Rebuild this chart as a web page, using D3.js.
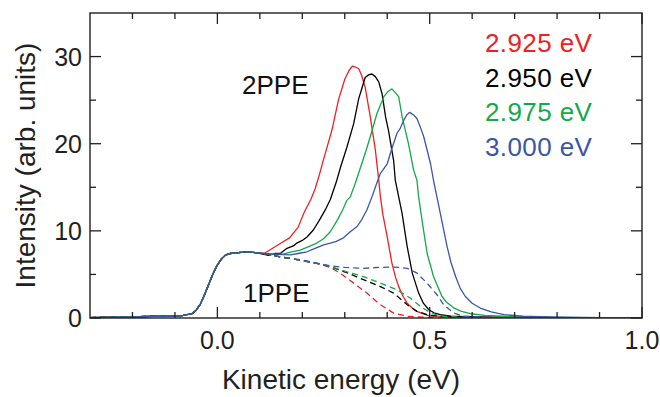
<!DOCTYPE html>
<html>
<head>
<meta charset="utf-8">
<script src="https://cdn.jsdelivr.net/npm/d3@7"></script>
<style>
  body { margin: 0; background: #fff; }
  svg { display: block; font-family: 'Liberation Sans', Arial, Helvetica, sans-serif; }
  .frame { fill: none; stroke: #231f20; stroke-width: 1.4; }
  .tick-mark { stroke: #231f20; stroke-width: 1.3; }
  .tick-label { fill: #231f20; font-size: 25px; }
  .axis-title { fill: #231f20; font-size: 28px; }
  .note { fill: #111; font-size: 26px; }
  .legend { font-size: 26px; letter-spacing: 0.4px; }
</style>
</head>
<body>
<svg class="chart" width="660" height="397"></svg>
<script>
// photon energies (legend) and their colours
const photonLabels = ['2.925 eV', '2.950 eV', '2.975 eV', '3.000 eV'];
const colors = ['#ee2026', '#000000', '#12a94a', '#3a56a7'];

// tick values
const xMajor = [0.0, 0.5, 1.0];
const xMinor = [-0.2, -0.1, 0.1, 0.2, 0.3, 0.4, 0.6, 0.7, 0.8, 0.9];
const yMajor = [0, 10, 20, 30];
const yMinor = [5, 15, 25];

// common onset of all spectra [kinetic energy (eV), intensity]
const onset = [
  [-0.30, 0.05], [-0.25, 0.1], [-0.20, 0.12], [-0.15, 0.2], [-0.10, 0.2], [-0.08, 0.3],
  [-0.06, 0.5], [-0.05, 0.9], [-0.04, 1.6], [-0.03, 2.7], [-0.02, 3.9], [-0.01, 5.1],
  [0.00, 6.1], [0.01, 6.8], [0.02, 7.25], [0.03, 7.4], [0.05, 7.5], [0.07, 7.6], [0.09, 7.5]
];

// 2PPE spectra (solid)
const red2PPE = [
  [0.11, 7.4], [0.13, 8.0], [0.15, 8.6], [0.17, 9.2], [0.19, 10.4], [0.205, 12.2], [0.22, 13.6],
  [0.23, 14.8], [0.24, 16.4], [0.25, 18.2], [0.26, 19.9], [0.27, 21.6], [0.285, 25.0], [0.30, 27.4],
  [0.31, 28.4], [0.318, 28.9], [0.325, 28.8], [0.333, 28.6], [0.34, 27.8], [0.348, 26.5], [0.36, 23.1],
  [0.372, 19.3], [0.38, 15.8], [0.384, 13.9], [0.39, 11.8], [0.40, 9.3], [0.411, 6.3], [0.42, 4.6],
  [0.427, 3.6], [0.437, 2.5], [0.447, 1.7], [0.46, 1.1], [0.47, 0.75], [0.49, 0.4], [0.50, 0.25],
  [0.55, 0.15], [0.60, 0.1], [0.70, 0.05], [0.80, 0.05], [0.90, 0.03], [1.0, 0.03]
];
const black2PPE = [
  [0.11, 7.3], [0.12, 7.2], [0.135, 7.4], [0.148, 7.4], [0.164, 8.0], [0.18, 8.3], [0.187, 8.6],
  [0.20, 8.9], [0.211, 9.3], [0.226, 10.1], [0.24, 11.2], [0.254, 12.4], [0.266, 13.6], [0.28, 15.6],
  [0.29, 17.3], [0.305, 19.6], [0.321, 22.3], [0.333, 25.2], [0.34, 26.3], [0.348, 27.6], [0.356, 27.9],
  [0.364, 28.0], [0.372, 27.7], [0.38, 27.1], [0.388, 25.7], [0.396, 23.1], [0.403, 21.5], [0.415, 18.1],
  [0.419, 15.8], [0.427, 13.9], [0.435, 12.0], [0.447, 8.2], [0.459, 5.15], [0.474, 2.86], [0.485, 1.7],
  [0.498, 0.95], [0.51, 0.6], [0.525, 0.38], [0.55, 0.2], [0.60, 0.12], [0.70, 0.06], [0.85, 0.04], [1.0, 0.03]
];
const green2PPE = [
  [0.11, 7.4], [0.13, 7.3], [0.156, 7.36], [0.175, 7.6], [0.195, 7.8], [0.215, 8.2], [0.234, 8.6],
  [0.25, 9.1], [0.266, 9.9], [0.282, 11.2], [0.295, 12.4], [0.305, 13.5], [0.313, 13.9], [0.325, 15.5],
  [0.34, 17.7], [0.35, 19.2], [0.36, 20.8], [0.376, 23.5], [0.392, 25.4], [0.402, 26.0], [0.411, 26.3],
  [0.42, 25.8], [0.427, 25.4], [0.435, 23.1], [0.45, 20.0], [0.462, 17.0], [0.47, 15.8], [0.474, 13.9],
  [0.482, 11.2], [0.494, 7.4], [0.509, 4.76], [0.52, 3.5], [0.529, 2.47], [0.54, 1.8], [0.557, 1.14],
  [0.575, 0.75], [0.596, 0.49], [0.63, 0.3], [0.70, 0.15], [0.80, 0.08], [0.90, 0.04], [1.0, 0.03]
];
const blue2PPE = [
  [0.11, 7.4], [0.14, 7.3], [0.172, 7.24], [0.19, 7.4], [0.211, 7.6], [0.23, 8.0], [0.25, 8.4],
  [0.266, 8.6], [0.28, 8.8], [0.297, 9.2], [0.313, 9.9], [0.329, 10.5], [0.34, 11.3], [0.352, 12.4],
  [0.364, 13.9], [0.374, 15.3], [0.384, 16.6], [0.39, 17.0], [0.40, 17.7], [0.41, 19.3], [0.423, 21.2],
  [0.431, 21.8], [0.439, 22.7], [0.446, 23.3], [0.453, 23.6], [0.462, 23.3], [0.47, 22.9], [0.478, 21.9],
  [0.486, 20.8], [0.502, 17.7], [0.509, 15.8], [0.517, 13.9], [0.525, 12.0], [0.541, 8.2], [0.55, 6.4],
  [0.561, 4.76], [0.572, 3.4], [0.584, 2.47], [0.60, 1.7], [0.619, 1.14], [0.645, 0.7], [0.675, 0.38],
  [0.72, 0.2], [0.80, 0.1], [0.90, 0.05], [1.0, 0.03]
];

// 1PPE components (dashed)
const red1PPE = [
  [0.12, 7.3], [0.15, 7.0], [0.20, 6.6], [0.24, 6.2], [0.266, 5.8], [0.289, 5.15], [0.321, 4.0],
  [0.352, 2.86], [0.384, 1.52], [0.415, 0.57], [0.447, 0.2], [0.50, 0.05], [0.60, 0.02], [0.96, 0.0]
];
const black1PPE = [
  [0.12, 7.3], [0.15, 7.0], [0.20, 6.6], [0.24, 6.2], [0.266, 5.9], [0.305, 5.2], [0.344, 4.4],
  [0.384, 3.6], [0.415, 2.86], [0.447, 1.52], [0.47, 0.76], [0.50, 0.3], [0.55, 0.1], [0.60, 0.03], [0.96, 0.0]
];
const green1PPE = [
  [0.12, 7.3], [0.15, 7.0], [0.20, 6.6], [0.24, 6.2], [0.266, 5.9], [0.305, 5.3], [0.344, 4.76],
  [0.384, 4.0], [0.423, 3.24], [0.454, 2.29], [0.478, 1.33], [0.502, 0.57], [0.53, 0.2], [0.60, 0.05], [0.96, 0.0]
];
const blue1PPE = [
  [0.12, 7.3], [0.15, 7.0], [0.20, 6.65], [0.24, 6.25], [0.266, 6.0], [0.30, 5.8], [0.344, 5.7],
  [0.38, 5.8], [0.407, 5.85], [0.43, 5.8], [0.447, 5.7], [0.47, 5.15], [0.494, 4.0], [0.517, 2.67],
  [0.533, 1.52], [0.557, 0.57], [0.58, 0.2], [0.65, 0.05], [0.96, 0.0]
];

const solidSeries = [red2PPE, black2PPE, green2PPE, blue2PPE];
const dashedSeries = [red1PPE, black1PPE, green1PPE, blue1PPE];

const margin = { top: 13, right: 18, bottom: 79, left: 90 };
const width = 660 - margin.left - margin.right;
const height = 397 - margin.top - margin.bottom;

const svg = d3.select('.chart');
const chart = svg.append('g').attr('transform', `translate(${margin.left},${margin.top})`);

const x = d3.scaleLinear().domain([-0.3, 1.0]).range([0, width]);
const y = d3.scaleLinear().domain([0, 35]).range([height, 0]);

const line = d3.line()
  .x(d => x(d[0]))
  .y(d => y(d[1]));

chart.append('defs').append('clipPath').attr('id', 'plot-clip')
  .append('rect').attr('width', width).attr('height', height);

const plot = chart.append('g').attr('clip-path', 'url(#plot-clip)');

solidSeries.forEach((s, i) => {
  plot.append('path')
    .datum(onset.concat(s))
    .attr('d', line)
    .attr('fill', 'none')
    .attr('stroke', colors[i])
    .attr('stroke-width', 1.3)
    .attr('stroke-linejoin', 'round');
});

dashedSeries.forEach((s, i) => {
  plot.append('path')
    .datum(onset.concat(s))
    .attr('d', line)
    .attr('fill', 'none')
    .attr('stroke', colors[i])
    .attr('stroke-width', 1.3)
    .attr('stroke-dasharray', '6,4');
});

// ticks pointing inward on all four sides
const majorLen = 11, minorLen = 6;
const ticks = chart.append('g');
xMajor.concat(xMinor).forEach(v => {
  const len = xMajor.includes(v) ? majorLen : minorLen;
  ticks.append('line').attr('class', 'tick-mark')
    .attr('x1', x(v)).attr('x2', x(v)).attr('y1', height).attr('y2', height - len);
  ticks.append('line').attr('class', 'tick-mark')
    .attr('x1', x(v)).attr('x2', x(v)).attr('y1', 0).attr('y2', len);
});
yMajor.concat(yMinor).forEach(v => {
  const len = yMajor.includes(v) ? majorLen : minorLen;
  ticks.append('line').attr('class', 'tick-mark')
    .attr('x1', 0).attr('x2', len).attr('y1', y(v)).attr('y2', y(v));
  ticks.append('line').attr('class', 'tick-mark')
    .attr('x1', width).attr('x2', width - len).attr('y1', y(v)).attr('y2', y(v));
});

chart.append('rect').attr('class', 'frame').attr('width', width).attr('height', height);

chart.selectAll('.x-label')
  .data(xMajor)
  .enter().append('text')
    .attr('class', 'tick-label')
    .attr('x', d => x(d))
    .attr('y', height + 31)
    .attr('text-anchor', 'middle')
    .text(d => d3.format('.1f')(d));

chart.selectAll('.y-label')
  .data(yMajor)
  .enter().append('text')
    .attr('class', 'tick-label')
    .attr('x', -8)
    .attr('y', d => y(d) + 9)
    .attr('text-anchor', 'end')
    .text(d => d);

chart.append('text')
  .attr('class', 'axis-title')
  .attr('x', 251)
  .attr('y', height + 71)
  .attr('text-anchor', 'middle')
  .text('Kinetic energy (eV)');

chart.append('text')
  .attr('class', 'axis-title')
  .attr('transform', `translate(-55,${height / 2}) rotate(-90)`)
  .attr('text-anchor', 'middle')
  .text('Intensity (arb. units)');

chart.append('text').attr('class', 'note').attr('x', 152).attr('y', 81).text('2PPE');
chart.append('text').attr('class', 'note').attr('x', 153).attr('y', 289).text('1PPE');

chart.selectAll('.legend')
  .data(photonLabels)
  .enter().append('text')
    .attr('class', 'legend')
    .attr('x', 395)
    .attr('y', (d, i) => 39 + i * 34.5)
    .attr('fill', (d, i) => colors[i])
    .text(d => d);
</script>
</body>
</html>
